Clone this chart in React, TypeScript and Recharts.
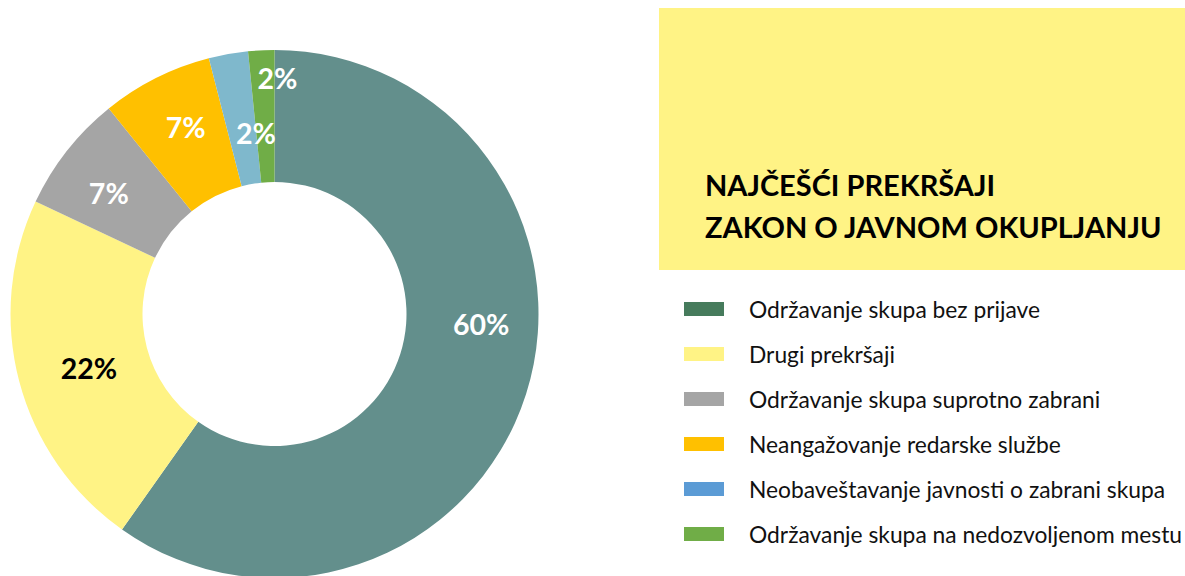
import React from 'react';
import { PieChart, Pie, Cell, Legend } from 'recharts';

const categories = [
  'Održavanje skupa bez prijave',
  'Drugi prekršaji',
  'Održavanje skupa suprotno zabrani',
  'Neangažovanje redarske službe',
  'Neobaveštavanje javnosti o zabrani skupa',
  'Održavanje skupa na nedozvoljenom mestu',
];
const shares = [59.8, 22.2, 7.2, 6.8, 2.4, 1.6];
const sliceColors = ['#638f8c', '#fff385', '#a5a5a5', '#ffc000', '#7fb8cc', '#70ad47'];
const legendColors = ['#467b5c', '#fff385', '#a5a5a5', '#ffc000', '#5b9bd5', '#70ad47'];
const labelColors = ['#ffffff', '#000000', '#ffffff', '#ffffff', '#ffffff', '#ffffff'];
const titleLines = ['NAJČEŠĆI PREKRŠAJI', 'ZAKON O JAVNOM OKUPLJANJU'];

// small manual nudges so labels sit where the original placed them
const labelNudge = [[18, -50], [6, 4], [-10, 1], [0, -10], [16, 14], [13, -38]];

const chartData = categories.map((name, i) => ({ name, value: shares[i] }));

const RADIAN = Math.PI / 180;
const FONT = 'Lato, "Noto Sans", sans-serif';

const renderLabel = (props: any) => {
  const { cx, cy, midAngle, percent, index } = props;
  const r = 198;
  const x = cx + r * Math.cos(-midAngle * RADIAN) + labelNudge[index][0];
  const y = cy + r * Math.sin(-midAngle * RADIAN) + labelNudge[index][1];
  return (
    <text
      x={x}
      y={y}
      fill={labelColors[index]}
      textAnchor="middle"
      dominantBaseline="central"
      fontFamily={FONT}
      fontWeight={700}
      fontSize={28.5}
    >
      {`${Math.round(percent * 100)}%`}
    </text>
  );
};

const LegendList = () => (
  <div style={{ fontFamily: FONT }}>
    {categories.map((name, i) => (
      <div key={name} style={{ display: 'flex', alignItems: 'center', height: 45 }}>
        <div style={{ width: 40, height: 14, background: legendColors[i], marginRight: 25 }} />
        <span style={{ fontSize: 22.8, color: '#111', whiteSpace: 'nowrap' }}>{name}</span>
      </div>
    ))}
  </div>
);

const App: React.FC = () => {
  return (
    <div style={{ position: 'absolute', left: 0, top: 0, width: 1185, height: 576, overflow: 'hidden', background: '#fff' }}>
      <div
        style={{
          position: 'absolute', left: 659, top: 8, width: 526, height: 262, background: '#fff385',
          fontFamily: FONT, fontWeight: 700, fontSize: 29, color: '#000', boxSizing: 'border-box',
          paddingLeft: 46, paddingTop: 156, lineHeight: '42px',
        }}
      >
        {titleLines.map(t => <div key={t}>{t}</div>)}
      </div>
      <PieChart
        width={1185}
        height={576}
        margin={{ top: 0, right: 0, bottom: 0, left: 0 }}
        style={{ position: 'absolute', left: 0, top: 0 }}
      >
        <Pie
          data={chartData}
          dataKey="value"
          nameKey="name"
          cx={274.5}
          cy={314}
          innerRadius={132}
          outerRadius={264}
          startAngle={90}
          endAngle={-270}
          stroke="none"
          label={renderLabel}
          labelLine={false}
          isAnimationActive={false}
        >
          {chartData.map((d, i) => <Cell key={d.name} fill={sliceColors[i]} />)}
        </Pie>
        <Legend
          content={() => <LegendList />}
          wrapperStyle={{ position: 'absolute', left: 684, top: 286, width: 500 }}
        />
      </PieChart>
    </div>
  );
};

export default App;
